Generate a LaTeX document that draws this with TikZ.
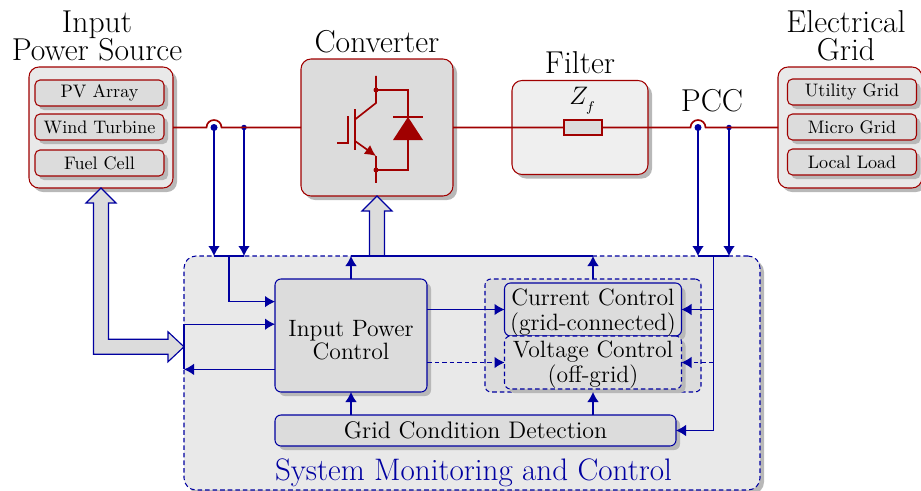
\documentclass[tikz,border=0pt]{standalone}
\usepackage{tikz}
\usetikzlibrary{arrows.meta, positioning, calc, shadows}
\usepackage{xcolor}
\definecolor{powerred}{HTML}{A00000}
\definecolor{ctrlblue}{HTML}{0000A0}
\definecolor{boxgray}{HTML}{DCDCDC}
\definecolor{panelgray}{HTML}{E9E9E9}
\definecolor{filtergray}{HTML}{EFEFEF}
\definecolor{shadowgray}{HTML}{B8B8B8}

\begin{document}
\begin{tikzpicture}[
    softshadow/.style={drop shadow={shadow xshift=0.08cm, shadow yshift=-0.08cm, fill=shadowgray, opacity=1}},
    titlefont/.style={font=\fontsize{18}{16.5}\selectfont},
    bodyfont/.style={font=\fontsize{13.45}{14}\selectfont},
    panel/.style={draw=powerred, line width=0.6pt, fill=panelgray, rounded corners=0.2cm, minimum width=2.88cm, minimum height=2.42cm, inner sep=0pt, outer sep=0pt, softshadow},
    item/.style={draw=powerred, line width=0.6pt, fill=boxgray, rounded corners=0.1cm, minimum width=2.58cm, minimum height=0.52cm, inner sep=0pt, outer sep=0pt, font=\fontsize{10.3}{12}\selectfont, softshadow},
    titlenode/.style={titlefont, align=center, inner sep=0pt, outer sep=0pt},
    ctrlbox/.style={draw=ctrlblue, line width=0.6pt, fill=boxgray, rounded corners=0.12cm, inner sep=0pt, outer sep=0pt, bodyfont, align=center, softshadow},
    dashbox/.style={ctrlbox, dash pattern=on 2.6pt off 1.7pt},
    sensedot/.style={circle, fill=ctrlblue, inner sep=0pt, outer sep=0pt, minimum size=#1},
    power/.style={draw=powerred, line width=0.95pt},
    sig/.style={draw=ctrlblue, line width=0.6pt, -{Latex[length=0.2cm, width=0.23cm]}},
    bus/.style={draw=ctrlblue, line width=1.1pt},
    fatarr/.style={draw=ctrlblue, line width=0.65pt, fill=boxgray, line join=miter},
]
\useasboundingbox (0,0) rectangle (18.42,9.8);

\node[panel, anchor=center] (source) at (2.02,7.25) {};
\node[item, below=0.26cm of source.north, xshift=-0.03cm] (pv) {PV Array};
\node[item, below=0.16cm of pv] (wind) {Wind Turbine};
\node[item, below=0.2cm of wind] (fuel) {Fuel Cell};

\node[draw=powerred, line width=0.6pt, fill=boxgray, rounded corners=0.2cm, minimum width=3.04cm, minimum height=2.74cm, inner sep=0pt, outer sep=0pt, softshadow, right=2.56cm of source] (conv) {};
\node[draw=powerred, line width=0.6pt, fill=filtergray, rounded corners=0.2cm, minimum width=2.72cm, minimum height=1.88cm, inner sep=0pt, outer sep=0pt, softshadow, right=1.18cm of conv] (filter) {};
\node[panel, right=2.6cm of filter] (grid) {};
\node[item, below=0.24cm of grid.north, xshift=0.04cm] (utility) {Utility Grid};
\node[item, below=0.18cm of utility] (micro) {Micro Grid};
\node[item, below=0.18cm of micro] (load) {Local Load};

\node[draw=powerred, line width=0.95pt, fill=boxgray, minimum width=0.76cm, minimum height=0.29cm, inner sep=0pt, outer sep=0pt, right=2.22cm of conv] (imp) {};
\node[above=0.12cm of imp, inner sep=0pt, font=\fontsize{15.5}{15}\selectfont] (zf) {$Z_{_f}$};

\node[titlenode, above=0.11cm of source, xshift=-0.08cm] (sourcetitle) {Input~\\Power Source};
\node[titlenode, above=0.11cm of conv] (convtitle) {Converter};
\node[titlenode, above=0.13cm of filter] (filtertitle) {Filter};
\node[titlenode, above=0.11cm of grid, xshift=-0.08cm] (gridtitle) {Electrical~\\Grid};

\node[sensedot=0.14cm, right=0.75cm of source] (vdot) {};
\node[sensedot=0.11cm, right=0.475cm of vdot] (idot) {};
\node[sensedot=0.14cm, right=1.85cm of imp] (pdot) {};
\node[sensedot=0.11cm, right=0.495cm of pdot] (qdot) {};
\node[titlenode, above=0.31cm of $(pdot)!0.5!(qdot)$, xshift=-0.03cm] (pcctitle) {PCC};

\node[draw=ctrlblue, line width=0.6pt, fill=panelgray, rounded corners=0.24cm, dash pattern=on 2.6pt off 1.7pt, minimum width=11.52cm, minimum height=4.68cm, inner sep=0pt, outer sep=0pt, softshadow, anchor=center] (ctrl) at (9.44,2.34) {};
\node[ctrlbox, font=\fontsize{13.45}{12}\selectfont, minimum width=3.04cm, minimum height=2.26cm, below right=0.46cm and 1.82cm of ctrl.north west] (ipc) {\rule{0pt}{14pt}Input Power\\Control};
\node[draw=ctrlblue, line width=0.6pt, fill=boxgray, rounded corners=0.12cm, dash pattern=on 2.6pt off 1.7pt, inner sep=0pt, outer sep=0pt, minimum width=4.32cm, minimum height=2.26cm, right=1.16cm of ipc] (group) {};
\node[ctrlbox, minimum width=3.54cm, minimum height=1.06cm, below=0.08cm of group.north] (cur) {\rule{0pt}{12.7pt}Current Control\\(grid-connected)};
\node[dashbox, minimum width=3.54cm, minimum height=1.06cm, below=0cm of cur] (volt) {\rule{0pt}{11.6pt}Voltage Control\\(off-grid)};
\node[ctrlbox, font=\fontsize{13.65}{14}\selectfont, minimum width=8.02cm, minimum height=0.62cm, below right=0.46cm and 0cm of ipc.south west] (det) {Grid Condition Detection};
\node[titlenode, font=\fontsize{17.7}{16.5}\selectfont, text=ctrlblue, below right=0.26cm and 0cm of det.south west] (ctrltitle) {System Monitoring and Control};

\coordinate (ipcA) at ($(ipc.north west)!0.2!(ipc.south west)$);
\coordinate (ipcB) at ($(ipc.north west)!0.4!(ipc.south west)$);
\coordinate (ipcC) at ($(ipc.north west)!0.6!(ipc.south west)$);
\coordinate (ipcD) at ($(ipc.north west)!0.8!(ipc.south west)$);
\coordinate (fatin) at (ipcC -| ctrl.west);
\coordinate (leftbus) at ($(vdot |- ctrl.north)!0.5!(idot |- ctrl.north)$);
\coordinate (rail) at ($(pdot |- ctrl.north)!0.5!(qdot |- ctrl.north)$);

\draw[power] (source.east) -- ($(vdot)+(-0.15,0)$) arc[start angle=180, end angle=0, radius=0.15] -- (conv.west);
\draw[power] (conv.east) -- (imp.west) (imp.east) -- ($(pdot)+(-0.15,0)$) arc[start angle=180, end angle=0, radius=0.15] -- (grid.west);

\draw[fatarr] (source.south) -- ++(0.3,-0.3) -- ++(-0.15,0) |- ($(fatin)+(-0.32,0.15)$) -- ++(0,0.15) -- (fatin) -- ++(-0.32,-0.3) -- ++(0,0.15) -| ($(source.south)+(-0.15,-0.3)$) -- ++(-0.15,0) -- cycle;
\draw[fatarr] (conv.south) -- ++(0.3,-0.3) -- ++(-0.15,0) -- ($(conv.south |- ctrl.north)+(0.15,0)$) -- ($(conv.south |- ctrl.north)+(-0.15,0)$) -- ($(conv.south)+(-0.15,-0.3)$) -- ++(-0.15,0) -- cycle;

\draw[sig] (vdot.center) -- (vdot |- ctrl.north);
\draw[sig] (idot.center) -- (idot |- ctrl.north);
\draw[sig] (pdot.center) -- (pdot |- ctrl.north);
\draw[sig] (qdot.center) -- (qdot |- ctrl.north);

\draw[bus] (vdot |- ctrl.north) -- (idot |- ctrl.north);
\draw[bus] (pdot |- ctrl.north) -- (qdot |- ctrl.north);
\draw[bus] (ipc.north |- ctrl.north) -- (group.north |- ctrl.north);
\draw[bus] (ipcB -| ctrl.west) -- (ipcD -| ctrl.west);

\draw[sig] (leftbus) |- (ipcA);
\draw[sig] (ipcB -| ctrl.west) -- (ipcB);
\draw[sig] (ipcD) -- (ipcD -| ctrl.west);
\draw[sig] (ipc.north) -- (ipc.north |- ctrl.north);
\draw[sig] (group.north) -- (group.north |- ctrl.north);
\draw[sig] (ipc.south |- det.north) -- (ipc.south);
\draw[sig] (group.south |- det.north) -- (group.south);
\draw[sig] (cur.west -| ipc.east) -- (cur.west);
\draw[sig, dash pattern=on 2.6pt off 1.7pt] (volt.west -| ipc.east) -- (volt.west);
\draw[sig] (rail) |- (det.east);
\draw[sig] (rail |- cur.east) -- (cur.east);
\draw[sig, dash pattern=on 2.6pt off 1.7pt] (rail |- volt.east) -- (volt.east);

\begin{scope}[shift={(conv.center)}, x=0.02cm, y=-0.02cm, draw=powerred, line width=0.95pt]
    \draw (-1,-51.5) -- (-1,-24.5) -- (-22,-8);
    \draw (-22,-18.5) -- (-22,22.5);
    \draw (-29,-11.5) -- (-29,15.5) -- (-40,15.5);
    \draw[-{Latex[length=0.22cm, width=0.22cm]}] (-22,13.5) -- (-1,28.5);
    \draw (-1,28.5) -- (-1,55.5);
    \draw (-1,-37.5) -- (31,-37.5) -- (31,42.5) -- (-1,42.5);
    \fill[powerred] (-1,-37.5) circle[radius=2.5];
    \fill[powerred] (-1,42.5) circle[radius=2.5];
    \fill[powerred] (31,-10.5) -- (46,12.5) -- (16,12.5) -- cycle;
    \draw (16,-10.5) -- (46,-10.5);
\end{scope}
\end{tikzpicture}
\end{document}
